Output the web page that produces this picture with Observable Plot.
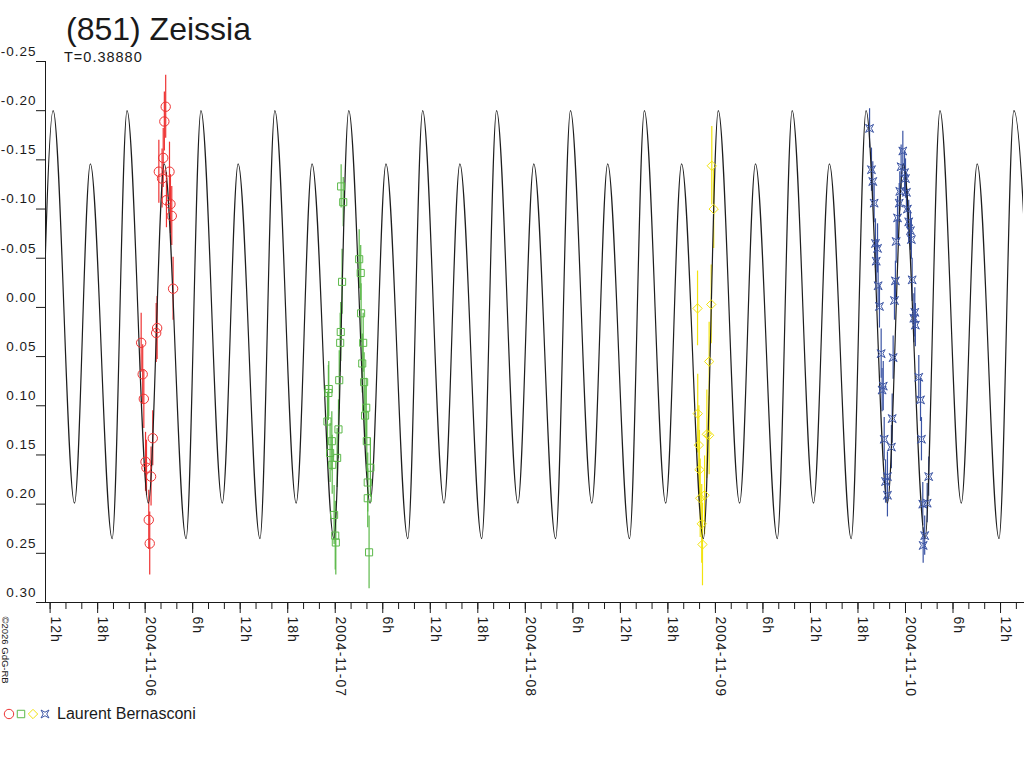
<!DOCTYPE html>
<html>
<head>
<meta charset="utf-8">
<script src="https://cdn.jsdelivr.net/npm/d3@7"></script>
<script src="https://cdn.jsdelivr.net/npm/@observablehq/plot@0.6"></script>
<style>
  html, body { margin: 0; padding: 0; background: #fff; }
  #wrap { position: relative; width: 1024px; height: 768px; font-family: "Liberation Sans", Arial, sans-serif; color: #1a1a1a; }
  #title { position: absolute; left: 66px; top: 13px; font-size: 32px; line-height: 32px; white-space: nowrap; }
  #sub { position: absolute; left: 64px; top: 50px; font-size: 14.5px; line-height: 14px; letter-spacing: 1px; white-space: nowrap; }
  #legend { position: absolute; left: 0; top: 700px; width: 400px; height: 30px; }
  #chart { position: absolute; left: 0; top: 0; }
  #chart svg text { letter-spacing: 1px; }
  #chart svg text.copy { letter-spacing: 0; }
</style>
</head>
<body>
<div id="wrap">
  <div id="chart"></div>
  <div id="title">(851) Zeissia</div>
  <div id="sub">T=0.38880</div>
  <svg id="legend" width="400" height="30"></svg>
</div>
<script>
// ---- data (times: days after 2004-11-06 00:00 UT; values: relative magnitude) ----
const epochISO = "2004-11-06T00:00:00Z";
const xDomainISO = ["2004-11-05T11:25:00Z", "2004-11-10T14:54:00Z"];
const yDomain = [-0.25, 0.30];
const yTicks = [-0.25, -0.20, -0.15, -0.10, -0.05, 0.00, 0.05, 0.10, 0.15, 0.20, 0.25, 0.30];
const observer = "Laurent Bernasconi";
const periodLabel = "T=0.38880";
const copyright = "\u00a92026 GdG-RB";

// model lightcurve extrema
const modelT = [-0.5624,
  -0.4840, -0.3719, -0.2883, -0.1736,
  -0.0952, 0.0169, 0.1005, 0.2152,
  0.2936, 0.4057, 0.4893, 0.6040,
  0.6824, 0.7945, 0.8781, 0.9928,
  1.0712, 1.1833, 1.2669, 1.3816,
  1.4600, 1.5721, 1.6557, 1.7704,
  1.8488, 1.9609, 2.0445, 2.1592,
  2.2376, 2.3497, 2.4333, 2.5480,
  2.6264, 2.7385, 2.8221, 2.9368,
  3.0152, 3.1273, 3.2109, 3.3256,
  3.4040, 3.5161, 3.5997, 3.7144,
  3.7928, 3.9049, 3.9885, 4.1032,
  4.1816, 4.2937, 4.3773, 4.4920,
  4.5704, 4.6825];
const modelMag = [0.235,
  -0.200, 0.199, -0.146, 0.235,
  -0.200, 0.199, -0.146, 0.235,
  -0.200, 0.199, -0.146, 0.235,
  -0.200, 0.199, -0.146, 0.235,
  -0.200, 0.199, -0.146, 0.235,
  -0.200, 0.199, -0.146, 0.235,
  -0.200, 0.199, -0.146, 0.235,
  -0.200, 0.199, -0.146, 0.235,
  -0.200, 0.199, -0.146, 0.235,
  -0.200, 0.199, -0.146, 0.235,
  -0.200, 0.199, -0.146, 0.235,
  -0.200, 0.199, -0.146, 0.235,
  -0.200, 0.199, -0.146, 0.235,
  -0.200, 0.199];

// session 1 (red circles)
const redT   = [0.108, 0.101, 0.095, 0.072, 0.128, 0.089, 0.112, 0.133, 0.140, 0.147, 0.063, 0.058, -0.021, -0.013, -0.007, 0.040, 0.002, 0.007, 0.031, 0.019, 0.024];
const redMag = [-0.204, -0.189, -0.152, -0.138, -0.138, -0.131, -0.109, -0.105, -0.093, -0.019, 0.021, 0.026, 0.036, 0.068, 0.093, 0.133, 0.157, 0.163, 0.172, 0.216, 0.240];
const redErr = [0.032, 0.030, 0.030, 0.032, 0.030, 0.030, 0.028, 0.030, 0.030, 0.032, 0.032, 0.030, 0.030, 0.030, 0.030, 0.028, 0.030, 0.028, 0.030, 0.030, 0.032];

// session 2 (green squares)
const greenT   = [1.031, 1.042, 1.126, 1.134, 1.036, 1.029, 1.026, 1.136, 1.147, 1.142, 1.152, 1.021, 0.966, 0.964, 1.163, 1.157, 0.959, 1.017, 0.982, 1.166, 0.973, 1.010, 0.984, 1.185, 1.171, 1.171, 0.994, 1.000, 1.003, 1.178];
const greenMag = [-0.123, -0.107, -0.049, -0.035, -0.026, 0.025, 0.036, 0.006, 0.036, 0.057, 0.076, 0.074, 0.083, 0.087, 0.102, 0.110, 0.116, 0.124, 0.136, 0.136, 0.148, 0.153, 0.160, 0.163, 0.178, 0.194, 0.211, 0.232, 0.239, 0.249];
const greenErr = [0.022, 0.025, 0.030, 0.028, 0.033, 0.030, 0.030, 0.030, 0.030, 0.030, 0.030, 0.030, 0.028, 0.028, 0.030, 0.030, 0.030, 0.030, 0.030, 0.030, 0.030, 0.030, 0.030, 0.030, 0.030, 0.030, 0.030, 0.035, 0.033, 0.037];

// session 3 (yellow diamonds)
const yellowT   = [2.981, 2.991, 2.978, 2.906, 2.967, 2.907, 2.955, 2.967, 2.913, 2.916, 2.943, 2.920, 2.928, 2.932];
const yellowMag = [-0.144, -0.100, -0.003, 0.001, 0.055, 0.108, 0.129, 0.130, 0.140, 0.165, 0.191, 0.194, 0.220, 0.241];
const yellowErr = [0.040, 0.040, 0.040, 0.038, 0.040, 0.040, 0.045, 0.040, 0.040, 0.040, 0.040, 0.040, 0.040, 0.042];

// session 4 (blue stars)
const blueT   = [3.811, 3.821, 3.828, 3.835, 3.842, 3.853, 3.846, 3.856, 3.863, 3.872, 3.883, 3.877, 3.888, 3.895, 3.905, 3.905, 3.930, 3.926, 3.935, 3.942, 3.947, 3.951, 3.958, 3.967, 3.970, 3.977, 3.986, 3.995, 4.000, 4.005, 4.010, 4.017, 4.026, 4.031, 4.035, 4.049, 4.044, 4.052, 4.070, 4.079, 4.084, 4.122, 4.114, 4.091, 4.101, 4.093];
const blueMag = [-0.182, -0.140, -0.128, -0.106, -0.065, -0.060, -0.047, -0.022, -0.001, 0.047, 0.080, 0.084, 0.134, 0.177, 0.172, 0.191, 0.113, 0.142, 0.051, -0.007, -0.027, -0.067, -0.091, -0.106, -0.118, -0.143, -0.159, -0.137, -0.131, -0.117, -0.100, -0.087, -0.078, -0.069, -0.028, 0.005, 0.011, 0.018, 0.071, 0.094, 0.134, 0.172, 0.199, 0.200, 0.232, 0.242];
const blueErr = [0.020, 0.022, 0.020, 0.020, 0.025, 0.025, 0.022, 0.022, 0.022, 0.025, 0.025, 0.022, 0.022, 0.022, 0.025, 0.022, 0.025, 0.022, 0.022, 0.020, 0.020, 0.022, 0.022, 0.020, 0.020, 0.022, 0.020, 0.022, 0.020, 0.020, 0.020, 0.022, 0.020, 0.020, 0.022, 0.025, 0.025, 0.022, 0.022, 0.022, 0.022, 0.020, 0.020, 0.022, 0.020, 0.018];

const colors = {red: "#ee3333", green: "#5cb94a", yellow: "#f2e30f", blue: "#3b54a4", curve: "#1e1e1e", ink: "#1a1a1a"};

// ---- build ----
const epoch = new Date(epochISO).getTime();
const toDate = d => new Date(epoch + d * 864e5);
const xDomain = xDomainISO.map(s => new Date(s));
const model = modelT.map((t, i) => ({date: toDate(t), mag: modelMag[i]}));
const rows = (T, M, E) => T.map((t, i) => ({date: toDate(t), mag: M[i], err: E[i]}));
const red = rows(redT, redMag, redErr);
const green = rows(greenT, greenMag, greenErr);
const yellow = rows(yellowT, yellowMag, yellowErr);
const blue = rows(blueT, blueMag, blueErr);

const starSymbol = {
  draw(ctx, size) {
    const r = Math.sqrt(size / Math.PI);
    const a = r * 0.95, b = r * 0.42;
    ctx.moveTo(a, a); ctx.lineTo(0, b); ctx.lineTo(-a, a); ctx.lineTo(-b, 0);
    ctx.lineTo(-a, -a); ctx.lineTo(0, -b); ctx.lineTo(a, -a); ctx.lineTo(b, 0);
    ctx.closePath();
  }
};

const majorTicks = d3.utcHour.every(6).range(xDomain[0], xDomain[1]);
const fmtX = d => d.getUTCHours() === 0 ? d3.utcFormat("%Y-%m-%d")(d) : d.getUTCHours() + "h";

const errBars = (data, color) => Plot.ruleX(data, {x: "date", y1: d => d.mag - d.err, y2: d => d.mag + d.err, stroke: color, strokeWidth: 1.2});

const chart = Plot.plot({
  width: 1024,
  height: 700,
  marginLeft: 45,
  marginRight: 1,
  marginTop: 61,
  marginBottom: 98,
  x: {type: "utc", domain: xDomain, label: null},
  y: {domain: yDomain, reverse: true, label: null},
  style: {fontFamily: "'Liberation Sans', Arial, sans-serif", color: colors.ink, background: "#fff", overflow: "visible"},
  marks: [
    // axes
    Plot.axisY({ticks: yTicks, tickSize: 9, fill: "none", stroke: colors.ink}),
    Plot.text(yTicks, {y: d => d, frameAnchor: "left", dx: -9, dy: -10, textAnchor: "end", lineAnchor: "middle", text: d => d.toFixed(2), fontSize: 13.5, fill: colors.ink}),
    Plot.axisX({ticks: d3.utcHour.every(2), tickSize: 7, fill: "none", stroke: colors.ink}),
    Plot.axisX({ticks: d3.utcHour.every(6), tickSize: 11, fill: "none", stroke: colors.ink}),
    Plot.text(majorTicks, {x: d => d, frameAnchor: "bottom", rotate: 90, textAnchor: "start", lineAnchor: "middle", dx: 5, dy: 14, text: fmtX, fontSize: 14, fill: colors.ink}),
    Plot.ruleX([xDomain[0]], {stroke: colors.ink}),
    Plot.ruleY([yDomain[1]], {stroke: colors.ink, insetLeft: -9, insetRight: -1}),
    Plot.text([copyright], {frameAnchor: "bottom-left", dx: -40, dy: 14, rotate: 90, textAnchor: "start", lineAnchor: "middle", fontSize: 9.5, fill: colors.ink}),
    // error bars
    errBars(red, colors.red),
    errBars(green, colors.green),
    errBars(yellow, colors.yellow),
    errBars(blue, colors.blue),
    // model curve
    Plot.line(model, {x: "date", y: "mag", curve: "monotone-x", stroke: colors.curve, strokeWidth: 1.2, clip: true}),
    // observations
    Plot.dot(red, {x: "date", y: "mag", symbol: "circle", r: 4.7, stroke: colors.red, fill: "none", strokeWidth: 1}),
    Plot.dot(green, {x: "date", y: "mag", symbol: "square", r: 4, stroke: colors.green, fill: "none", strokeWidth: 1}),
    Plot.dot(yellow, {x: "date", y: "mag", symbol: "diamond2", r: 4.2, stroke: colors.yellow, fill: "none", strokeWidth: 1}),
    Plot.dot(blue, {x: "date", y: "mag", symbol: starSymbol, r: 4.2, stroke: colors.blue, fill: "none", strokeWidth: 1})
  ]
});
d3.select(chart).selectAll("text").filter(function() { return this.textContent === copyright; }).classed("copy", true);
document.getElementById("chart").appendChild(chart);
document.getElementById("sub").textContent = periodLabel;

// legend
const lg = d3.select("#legend");
const sym = (type, color, x) => lg.append("path")
  .attr("transform", `translate(${x},14)`)
  .attr("d", d3.symbol(type, Math.PI * 4.2 * 4.2)())
  .attr("fill", "none").attr("stroke", color);
lg.append("circle").attr("cx", 9).attr("cy", 14).attr("r", 4.7).attr("fill", "none").attr("stroke", colors.red);
sym(d3.symbolSquare, colors.green, 21);
sym(d3.symbolDiamond2, colors.yellow, 33);
sym(starSymbol, colors.blue, 45);
lg.append("text").attr("x", 57).attr("y", 18.5).attr("font-size", 16)
  .attr("font-family", "'Liberation Sans', Arial, sans-serif").attr("fill", colors.ink).text(observer);
</script>
</body>
</html>
